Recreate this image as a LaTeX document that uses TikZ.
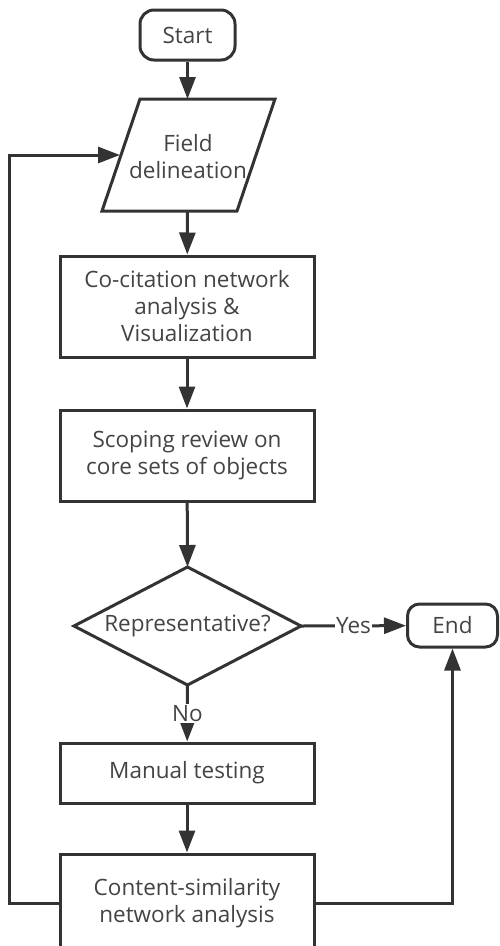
\documentclass[tikz,border=0pt]{standalone}
\usepackage{fontspec}
\setmainfont{Open Sans}
\usetikzlibrary{arrows.meta}
\definecolor{ln}{HTML}{333333}
\definecolor{tx}{HTML}{444444}
\begin{document}
\begin{tikzpicture}[x=1pt,y=-1pt,
  every node/.style={font=\fontsize{22.5}{27}\selectfont, text=tx, align=center, inner sep=0pt},
  box/.style={draw=ln, line width=3pt, fill=white, minimum width=254pt},
  term/.style={draw=ln, line width=3pt, fill=white, rounded corners=14pt},
  shp/.style={draw=ln, line width=3pt},
  conn/.style={draw=ln, line width=3pt, -{Triangle[length=22pt,width=16pt]}},
  lab/.style={fill=white, inner sep=1.5pt}
]
\useasboundingbox (0,0) rectangle (499,946);
% Start
\node[term, minimum width=95pt, minimum height=50pt] (start) at (187.5,35) {Start};
% Field delineation (parallelogram)
\draw[shp] (140,99) -- (275,99) -- (237,211) -- (102,211) -- cycle;
\node (field) at (188,157) {Field\\delineation};
\coordinate (fieldT) at (187.5,99);
\coordinate (fieldB) at (187.5,211);
\coordinate (fieldL) at (120,155);
% boxes
\node[box, minimum height=101pt] (cocit) at (187,306.5) {Co-citation network\\analysis \&\\Visualization};
\node[box, minimum height=91pt] (scope) at (187,455.5) {Scoping review on\\core sets of objects};
% decision diamond
\draw[shp] (187.5,567) -- (301,626) -- (187.5,685) -- (74,626) -- cycle;
\node (dec) at (187.5,626) {Representative?};
\coordinate (decT) at (187.5,567);
\coordinate (decR) at (301,626);
\coordinate (decB) at (187.5,685);
% End
\node[term, minimum width=90pt, minimum height=43pt, rounded corners=12pt] (endn) at (452.5,625.5) {End};
\node[box, minimum height=60pt] (manual) at (187,773) {Manual testing};
\node[box, minimum height=98pt] (content) at (187,903) {Content-similarity\\network analysis};
% connectors
\draw[conn] (start) -- (fieldT);
\draw[conn] (fieldB) -- (cocit);
\draw[conn] (cocit) -- (scope);
\draw[conn] (scope) -- (decT);
\draw[conn] (decR) -- node[lab] {Yes} (endn);
\draw[conn] (decB) -- node[lab] {No} (manual);
\draw[conn] (manual) -- (content);
\draw[conn] (content.west) -- ++(-49,0) |- (fieldL);
\draw[conn] (content.east) -| (endn.south);
\end{tikzpicture}
\end{document}
